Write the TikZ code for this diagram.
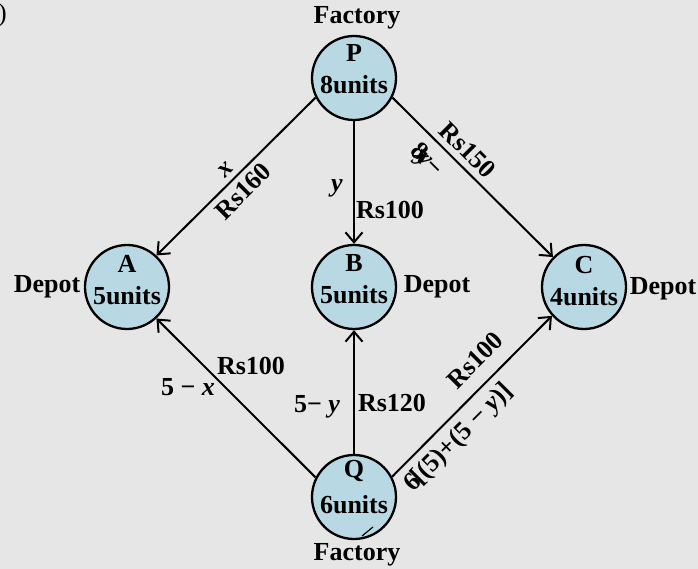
\documentclass[tikz,border=0pt]{standalone}
\usepackage{fontspec}
\setmainfont{Liberation Serif}
\usetikzlibrary{arrows.meta}
\definecolor{bgc}{RGB}{230,230,230}
\definecolor{nodefill}{RGB}{184,217,228}
\begin{document}
\begin{tikzpicture}[x=1pt,y=-1pt,
  lbl/.style={font=\fontsize{26}{30}\selectfont\bfseries, inner sep=0pt},
  site/.style={circle, draw=black, line width=2.3pt, fill=nodefill, minimum size=84pt, inner sep=0pt},
  flow/.style={line width=2pt, -{Straight Barb[length=10pt,width=17pt,line width=2pt]}}]
\fill[bgc] (0,0) rectangle (698,569);
\useasboundingbox (0,0) rectangle (698,569);

% sites
\node[site] (P) at (354,78) {};
\node[site] (A) at (127,287) {};
\node[site] (B) at (354,287) {};
\node[site] (C) at (584,287) {};
\node[site] (Q) at (354,497) {};

\node[lbl] (Pn) at ([yshift=25pt]P.center) {P};
\node[lbl] (Pu) at ([yshift=-7pt]P.center) {8units};
\node[lbl] (An) at ([yshift=23pt]A.center) {A};
\node[lbl] (Au) at ([yshift=-9pt]A.center) {5units};
\node[lbl] (Bn) at ([yshift=24pt]B.center) {B};
\node[lbl] (Bu) at ([yshift=-8pt]B.center) {5units};
\node[lbl] (Cn) at ([yshift=22pt]C.center) {C};
\node[lbl] (Cu) at ([yshift=-10pt]C.center) {4units};
\node[lbl] (Qn) at ([yshift=26pt]Q.center) {Q};
\node[lbl] (Qu) at ([yshift=-8pt]Q.center) {6units};

% outer labels
\node[lbl] (fP) at (357,18) {Factory};
\node[lbl] (fQ) at (357,555) {Factory};
\node[lbl] (dA) at (47,287) {Depot};
\node[lbl] (dB) at (437,287) {Depot};
\node[lbl] (dC) at (663,289) {Depot};
\node[lbl, anchor=east, font=\fontsize{26}{30}\selectfont] (par) at (7,15) {)};

% connectors
\draw[flow] (P.207) -- (A.47);
\draw[flow] (P.south) -- (B.north);
\draw[flow] (P.333) -- (C.136);
\draw[flow] (Q.153) -- (A.313);
\draw[flow] (Q.north) -- (B.south);
\draw[flow] (Q.28) -- (C.222);

% stray tick inside Q
\draw[line width=1.2pt] (362,536) -- (373,527);

% edge labels
\node[lbl, rotate=45] (lx) at (226,170) {\textit{x}};
\node[lbl, rotate=45] (l160) at (243,191) {Rs160};
\node[lbl] (ly) at (337,188) {\textit{y}};
\node[lbl] (l100a) at (390,210) {Rs100};
\node[lbl, rotate=-45] (l150) at (468,150) {Rs150};
\node[lbl, rotate=-45] (lpc) at (426,161) {8\kern-0.3em\textit{x}\kern-0.3em\textit{y}\kern-0.05em−};
\node[lbl] (l5x) at (188,387) {5 − \textit{x}};
\node[lbl] (l100b) at (251,366) {Rs100};
\node[lbl] (l5y) at (317,407) {5− \textit{y}};
\node[lbl] (l120) at (392,403) {Rs120};
\node[lbl, rotate=45] (l100c) at (475,360) {Rs100};
\node[lbl, rotate=45] (lqc) at (459,438) {6\kern-0.12em[(5)+(5 − \textit{y})]};
\end{tikzpicture}
\end{document}
